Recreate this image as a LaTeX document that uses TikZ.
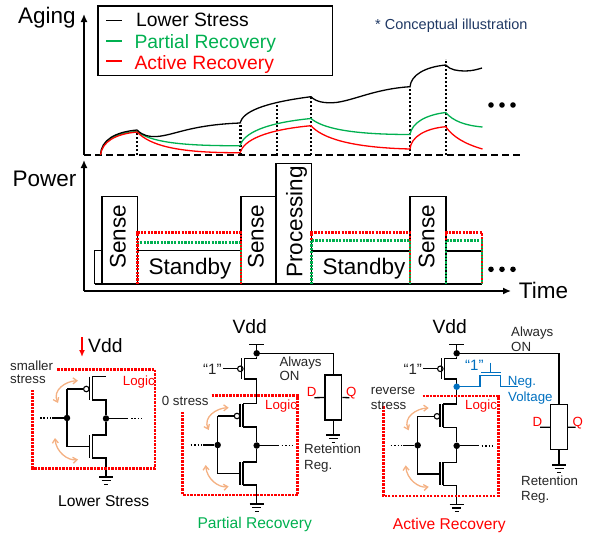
\documentclass[tikz,border=0pt]{standalone}
\usepackage{fontspec}
\setmainfont{Liberation Sans}
\usetikzlibrary{arrows.meta}
\definecolor{navytext}{HTML}{1F3864}
\definecolor{greenline}{HTML}{00B050}
\definecolor{blueline}{HTML}{0070C0}
\definecolor{orangeline}{HTML}{F4B183}
\definecolor{darktext}{HTML}{262626}
\tikzset{
  biglabel/.style={inner sep=0pt, font=\fontsize{22.5}{24}\selectfont},
  midlabel/.style={inner sep=0pt, anchor=base west, font=\fontsize{19.3}{21}\selectfont},
  caplabel/.style={inner sep=0pt, anchor=base west, font=\fontsize{15.6}{17}\selectfont},
  smalllabel/.style={inner sep=0pt, anchor=base west, text=darktext, font=\fontsize{13.3}{15}\selectfont},
  logiclabel/.style={smalllabel, text=red},
  bluelabel/.style={smalllabel, text=blueline},
  onelabel/.style={inner sep=0pt, anchor=base west, text=darktext, font=\fontsize{15}{17}\selectfont},
  axis/.style={line width=1.4pt, -{Latex[length=8pt,width=7pt]}},
  curve/.style={line width=1.3pt},
  wire/.style={line width=1.3pt},
  base0/.style={line width=2.4pt, dash pattern=on 7pt off 4pt},
  tick0/.style={line width=2.4pt, dash pattern=on 2.2pt off 1.8pt},
  pbox/.style={line width=1.3pt},
  reddot/.style={line width=2.7pt, red, dash pattern=on 2.2pt off 1.2pt},
  greendot/.style={line width=2.7pt, greenline, dash pattern=on 2.2pt off 1.2pt},
  logicbox/.style={line width=2.8pt, red, dash pattern=on 2.4pt off 1.1pt},
  junction/.style={circle, fill=black, inner sep=0pt, minimum size=6.5pt},
  bubble/.style={circle, draw=black, fill=white, line width=1.1pt, inner sep=0pt, minimum size=5.5pt},
  moredot/.style={circle, fill=black, inner sep=0pt, minimum size=5.6pt},
  regbox/.style={rectangle, draw=black, line width=1.3pt, inner sep=0pt, minimum width=16.7pt, minimum height=45pt},
  dotty/.style={line width=1.6pt, dash pattern=on 1.6pt off 1.8pt},
  swing/.style={line width=1.3pt, orangeline, {Straight Barb[length=4pt,width=6pt]}-{Straight Barb[length=4pt,width=6pt]}},
  gndsym/.pic={
    \draw[wire] (-7,0) -- (7,0);
    \draw[wire] (-4.5,3.6) -- (4.5,3.6);
    \draw[wire] (-1.8,7.2) -- (1.8,7.2);
  }
}
\begin{document}
\begin{tikzpicture}[x=1pt, y=-1pt]
      \useasboundingbox (0,0) rectangle (594,533);

      \node[biglabel] (aging) at (47,18) {Aging};
      \node[biglabel] (power) at (44.5,178.5) {Power};
      \node[biglabel] (time) at (543.5,290) {Time};

      \coordinate (agingorigin) at (84,155);
      \coordinate (agingtop) at (84,14);
      \coordinate (powerorigin) at (84,291);
      \coordinate (powertop) at (84,160);
      \coordinate (powerend) at (511,291);
      \coordinate (baseend) at (520,155);
      \draw[axis] (agingorigin) -- (agingtop);
      \draw[axis] (powerorigin) -- (powertop);
      \draw[axis] (powerorigin) -- (powerend);
      \draw[base0] (agingorigin) -- (baseend);

      \draw[line width=1.3pt] (98,6) rectangle (332.7,75.7);
      \coordinate (lega) at (106,20.7);
      \coordinate (legb) at (106,41);
      \coordinate (legc) at (106,61);
      \draw[curve, black] (lega) -- ++(15.5,0);
      \draw[curve, greenline] (legb) -- ++(15.5,0);
      \draw[curve, red] (legc) -- ++(15.5,0);
      \node[midlabel] (lower) at (136,26.7) {Lower Stress};
      \node[midlabel, text=greenline] (partial) at (134.3,48.3) {Partial Recovery};
      \node[midlabel, text=red] (active) at (134.3,69.3) {Active Recovery};
      \node[inner sep=0pt, anchor=base west, text=navytext, font=\fontsize{14.5}{16}\selectfont] (note) at (375,29.3) {* Conceptual illustration};

      \foreach \x/\y in {137/130.7, 240.5/123, 277/102, 311/97, 410/87, 445.7/59}
        \draw[tick0] (\x,155) -- (\x,\y);

      \draw[curve, greenline] (100.5,155) .. controls (102,140) and (115,133) .. (137,131.5)
        .. controls (150,141) and (175,146) .. (240,145.7)
        .. controls (244,133) and (265,123) .. (311,118.5)
        .. controls (322,128) and (350,134.5) .. (410,134.5)
        .. controls (412,123) and (425,115) .. (445.7,112.5)
        .. controls (453,121) and (465,125.5) .. (482.5,127);
      \draw[curve, black] (100.5,155) .. controls (101,140) and (115,132) .. (137,130)
        .. controls (143,136) and (150,137) .. (157,136.5)
        .. controls (175,135) and (190,125) .. (240,123)
        .. controls (243,112) and (262,103) .. (311,96.7)
        .. controls (316,102) and (325,103.5) .. (336,102.5)
        .. controls (355,100) and (375,89) .. (410,86.7)
        .. controls (411,75) and (425,67) .. (445.7,65)
        .. controls (450,70) and (458,71) .. (465,71)
        .. controls (472,71) and (477,69.5) .. (482,68);
      \draw[curve, red] (100.5,155) .. controls (102,142) and (115,134) .. (137,132)
        .. controls (150,145) and (175,153) .. (240,152.7)
        .. controls (244,140) and (265,130) .. (311,125.7)
        .. controls (322,138) and (350,147.5) .. (410,149)
        .. controls (411,137) and (425,128.5) .. (445.7,126.7)
        .. controls (453,137) and (465,144) .. (482.5,149);

      \foreach \n/\x in {a/491, b/502, c/513}
        \node[moredot] (agingdot\n) at (\x,105) {};
      \foreach \n/\x in {a/491, b/502, c/513}
        \node[moredot] (powerdot\n) at (\x,269.3) {};

      \draw[pbox] (94.7,284) |- (102,250.7);
      \draw[pbox] (94.7,284) -- (482,284);
      \draw[pbox] (102,284) |- (137.7,196.3) -- (137.7,284);
      \draw[pbox] (137.7,250.7) -- (241,250.7);
      \draw[pbox] (241,284) |- (276,196.3) -- (276,284);
      \draw[pbox] (276,284) |- (311.5,163.5) -- (311.5,284);
      \draw[pbox] (311.5,251) -- (410,251);
      \draw[pbox] (410,284) |- (446,196.3) -- (446,284);
      \draw[pbox] (446,251) -- (482,251);

      \node[biglabel, rotate=90] (sensea) at (117.8,237) {Sense};
      \node[biglabel, rotate=90] (senseb) at (256,237) {Sense};
      \node[biglabel, rotate=90] (sensec) at (426.5,237) {Sense};
      \node[biglabel, rotate=90] (processing) at (296.5,222) {Processing};
      \node[biglabel] (standbya) at (190,268.5) {Standby};
      \node[biglabel] (standbyb) at (364,268.5) {Standby};

      \draw[greendot] (137.7,284) |- (241,242.3) -- (241,284);
      \draw[reddot] (137.7,284) |- (241,232.7) -- (241,284);
      \draw[reddot] (311.5,284) |- (410,232.5) -- (410,284);
      \draw[greendot] (311.5,284) |- (410,240.3) -- (410,284);
      \draw[reddot] (446,284) |- (482,232.5) -- (482,284);
      \draw[greendot] (446,284) |- (482,240.3) -- (482,284);

      \foreach \n/\dx/\dy in {a/0/0, b/150.7/27, c/350.7/27.3}{
        \begin{scope}[shift={(\dx,\dy)}]
          \node[junction] (in\n) at (67,418) {};
          \node[junction] (out\n) at (106,418.5) {};
          \node[bubble] (bub\n) at (86.3,389) {};
          \coordinate (ptop\n) at (92.3,376.7);
          \coordinate (pbot\n) at (92.3,400);
          \coordinate (ntop\n) at (92.3,435);
          \coordinate (nbot\n) at (92.3,458);
          \coordinate (rail\n) at (106,376.7);
          \coordinate (gnd\n) at (106,477);
          \coordinate (gatep\n) at (67,389);
          \coordinate (gaten\n) at (89.5,446.7);
          \coordinate (inend\n) at (52,418);
          \coordinate (outend\n) at (128,418.5);
          \coordinate (arrowa\n) at (78,380.7);
          \coordinate (arrowb\n) at (58,403);
          \coordinate (arrowc\n) at (55,438);
          \coordinate (arrowd\n) at (78,459.5);
          \draw[wire] (ptop\n) -- (rail\n);
          \draw[wire] (ptop\n) -- (pbot\n);
          \draw[wire] (ntop\n) -- (nbot\n);
          \draw[wire] ([xshift=-3pt]ptop\n) -- ([xshift=-3pt]pbot\n);
          \draw[wire] ([xshift=-3pt]ntop\n) -- ([xshift=-3pt]nbot\n);
          \draw[wire] (pbot\n) -| (out\n);
          \draw[wire] (out\n) |- (ntop\n);
          \draw[wire] (nbot\n) -| (gnd\n);
          \draw[wire] (gatep\n) -- (bub\n);
          \draw[wire] (gatep\n) |- (gaten\n);
          \draw[wire] (inend\n) -- (in\n);
          \draw[wire] (out\n) -- (outend\n);
          \draw[dotty] (40,418) -- (50.5,418);
          \draw[dotty] (131,418.5) -- (142,418.5);
          \pic at (gnd\n) {gndsym};
          \draw[swing] (arrowa\n) .. controls (66,381) and (52,390) .. (arrowb\n);
          \draw[swing] (arrowc\n) .. controls (56,452) and (68,461) .. (arrowd\n);
        \end{scope}
      }

      \foreach \n/\dx in {b/0, c/200}{
        \begin{scope}[shift={(\dx,0)}]
          \node[junction] (hub\n) at (256.7,353.3) {};
          \node[bubble] (hbub\n) at (240.3,368.8) {};
          \coordinate (vddtop\n) at (256.7,344.3);
          \coordinate (htop\n) at (244.3,358.3);
          \coordinate (hbot\n) at (244.3,379);
          \coordinate (hgate\n) at (223.3,368.8);
          \draw[wire] (249.4,344.3) -- (264,344.3);
          \draw[wire] (vddtop\n) -- (hub\n);
          \draw[wire] (hub\n) |- (htop\n);
          \draw[wire] (htop\n) -- (hbot\n);
          \draw[wire] ([xshift=-3pt]htop\n) -- ([xshift=-3pt]hbot\n);
          \draw[wire] (hbot\n) -| (rail\n);
          \draw[wire] (hgate\n) -- (hbub\n);
        \end{scope}
      }

      \node[regbox] (regb) at (333.3,397.5) {};
      \node[regbox] (regc) at (559,427.2) {};
      \coordinate (dstubb) at (314.3,397.7);
      \coordinate (qstubb) at (349.3,397.7);
      \coordinate (dstubc) at (540,427.3);
      \coordinate (qstubc) at (575.7,427.3);
      \coordinate (gndregb) at (333.3,435);
      \coordinate (gndregc) at (559,465);
      \draw[wire] (hubb) -| (regb.north);
      \draw[wire] (hubc) -| (regc.north);
      \draw[wire] (dstubb) -- (regb.west);
      \draw[wire] (qstubb) -- (regb.east);
      \draw[wire] (dstubc) -- (regc.west);
      \draw[wire] (qstubc) -- (regc.east);
      \draw[wire] (regb.south) -- (gndregb);
      \draw[wire] (regc.south) -- (gndregc);
      \pic at (gndregb) {gndsym};
      \pic at (gndregc) {gndsym};

      \node[junction, fill=blueline] (negnode) at (456.7,386.7) {};
      \coordinate (negend) at (518,386.7);
      \coordinate (gatetop) at (490.7,362.7);
      \coordinate (gatemid) at (490.7,372.3);
      \draw[wire, blueline] (negnode) -- (480,386.7) |- (500.7,375.7) |- (negend);
      \draw[wire, blueline] (481,372.3) -- (501,372.3);
      \draw[wire, blueline] (gatetop) -- (gatemid);

      \draw[logicbox] (57.3,369.3) -| (155,468.3) -| (32.7,390);
      \draw[logicbox] (211.7,395.7) -| (297.7,495) -| (182.7,411.7);
      \draw[logicbox] (422.7,396) -| (498.3,496) -| (383.3,405.7);

      \coordinate (redtop) at (82,337);
      \coordinate (redtip) at (82,357);
      \draw[line width=1.5pt, red, -{Latex[length=7pt,width=6pt]}] (redtop) -- (redtip);

      \node[midlabel] (vdda) at (88,352.3) {Vdd};
      \node[midlabel] (vddb) at (232.3,333.3) {Vdd};
      \node[midlabel] (vddc) at (432.3,333.3) {Vdd};
      \node[smalllabel] (smallera) at (10,370) {smaller};
      \node[smalllabel] (smallerb) at (10,383) {stress};
      \node[smalllabel] (zerostress) at (161.7,405) {0 stress};
      \node[smalllabel] (reversea) at (370.7,394.3) {reverse};
      \node[smalllabel] (reverseb) at (370.7,409) {stress};
      \node[logiclabel] (logica) at (122.7,385.7) {Logic};
      \node[logiclabel] (logicb) at (265,409.3) {Logic};
      \node[logiclabel] (logicc) at (465,409) {Logic};
      \node[smalllabel] (alwaysb) at (279.3,366.7) {Always};
      \node[smalllabel] (onb) at (279.3,380.7) {ON};
      \node[smalllabel] (alwaysc) at (511,336.7) {Always};
      \node[smalllabel] (onc) at (511,351.7) {ON};
      \node[smalllabel] (retb) at (304,453.3) {Retention};
      \node[smalllabel] (regtextb) at (304,469) {Reg.};
      \node[smalllabel] (retc) at (521,485) {Retention};
      \node[smalllabel] (regtextc) at (521,500.7) {Reg.};
      \node[logiclabel] (dtextb) at (306.7,396.7) {D};
      \node[logiclabel] (qtextb) at (346,396.7) {Q};
      \node[logiclabel] (dtextc) at (532.3,426) {D};
      \node[logiclabel] (qtextc) at (572.3,426) {Q};
      \node[onelabel] (oneb) at (203,374) {“1”};
      \node[onelabel] (onec) at (403.3,374) {“1”};
      \node[onelabel, text=blueline] (oneneg) at (465,370) {“1”};
      \node[bluelabel] (neg) at (507.7,385) {Neg.};
      \node[bluelabel] (voltage) at (508,401.7) {Voltage};
      \node[caplabel] (caplower) at (58,506.7) {Lower Stress};
      \node[caplabel, text=greenline] (cappartial) at (197.3,528.3) {Partial Recovery};
      \node[caplabel, text=red] (capactive) at (392.7,529) {Active Recovery};

\end{tikzpicture}
\end{document}
